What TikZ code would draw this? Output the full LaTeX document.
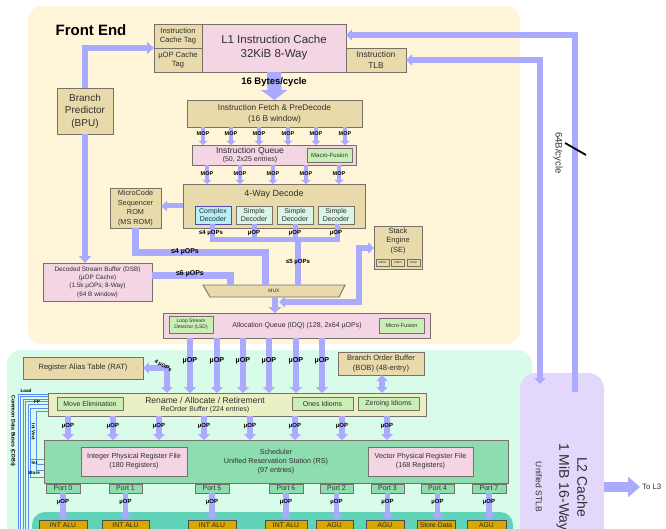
\documentclass[tikz,border=0pt]{standalone}
\usepackage{fontspec}
\setmainfont{Liberation Sans}
\usetikzlibrary{arrows.meta,calc}

\definecolor{feBg}{HTML}{FFF5D9}
\definecolor{beBg}{HTML}{D9FBE9}
\definecolor{l2Bg}{HTML}{E3D7FC}
\definecolor{exBg}{HTML}{60D2B8}
\definecolor{tanF}{HTML}{E9DAAB}
\definecolor{pinkF}{HTML}{F4D5E4}
\definecolor{greenF}{HTML}{C9EEB6}
\definecolor{cyanF}{HTML}{B6EEF9}
\definecolor{simpF}{HTML}{DAF5E7}
\definecolor{renF}{HTML}{EBF0C4}
\definecolor{schF}{HTML}{8EDDB0}
\definecolor{unitF}{HTML}{D8A800}
\definecolor{edgeC}{HTML}{77716A}
\definecolor{flowC}{HTML}{AAAAFF}
\definecolor{busC}{HTML}{5A8CF2}
\definecolor{txt}{HTML}{2F2F2F}

\newcommand{\fz}[2]{\fontsize{#1}{#2}\selectfont}
% \mkblk{style}{name}{x1}{y1}{x2}{y2}{text}: a box given by two corners
\newcommand{\mkblk}[7]{%
  \pgfmathsetmacro{\blkw}{#5-#3}%
  \pgfmathsetmacro{\blkh}{#6-#4}%
  \node[#1,minimum width=\blkw pt,minimum height=\blkh pt] (#2) at ({(#3+#5)/2},{(#4+#6)/2}) {#7};}

\begin{document}
\begin{tikzpicture}[x=1pt,y=-1pt,
  box/.style={draw=edgeC,line width=0.9pt,inner sep=0.5pt,outer sep=0pt,align=center,text=txt},
  tanbox/.style={box,fill=tanF},
  pinkbox/.style={box,fill=pinkF},
  greenbox/.style={box,fill=greenF},
  cplx/.style={box,fill=cyanF,draw=blue!40!gray},
  simp/.style={box,fill=simpF},
  renbox/.style={box,fill=renF},
  schbox/.style={box,fill=schF},
  exunit/.style={box,fill=unitF,draw=black!70,text=black!85},
  band/.style={draw=flowC,line width=#1},
  band/.default=6pt,
  fat/.style={band=6pt,-{Triangle[width=12pt,length=7pt]}},
  fatboth/.style={band=6pt,{Triangle[width=11pt,length=6pt]}-{Triangle[width=11pt,length=6pt]}},
  mop/.style={band=4.5pt,-{Triangle[width=9pt,length=4pt]}},
  uop/.style={band=5.5pt,-{Triangle[width=12pt,length=6pt]}},
  flowlbl/.style={font=\bfseries\fz{5.5}{6},inner sep=0pt,text=black},
  plain/.style={inner sep=0pt,text=txt,align=center},
  cdbline/.style={draw=busC,line width=0.8pt},
  buslbl/.style={font=\bfseries\fz{4.6}{5},inner sep=0pt,text=black}]

\useasboundingbox (0,0) rectangle (666,529);
\clip (0,0) rectangle (666,529);

% ---------- regions ----------
\fill[feBg,rounded corners=14pt] (28,6) rectangle (520,344);
\fill[beBg,rounded corners=14pt] (7,350) rectangle (532,570);
\fill[exBg,rounded corners=13pt] (32,512) rectangle (513,570);
\node[fill=l2Bg,rounded corners=16pt,minimum width=84pt,minimum height=200pt,inner sep=0pt,outer sep=0pt] (l2) at (562,473) {};

\node[font=\bfseries\fz{15}{18},inner sep=0pt] (fetitle) at (91,30) {Front End};

% ---------- front end blocks ----------
\mkblk{tanbox,font=\fz{7.6}{9.5}}{ictag}{154}{24}{202}{48}{Instruction\\Cache Tag}
\mkblk{tanbox,font=\fz{7.6}{9.5}}{uoptag}{154}{48}{202}{72}{µOP Cache\\Tag}
\mkblk{pinkbox,font=\fz{11.5}{14}}{l1}{202}{24}{346}{72}{L1 Instruction Cache\\32KiB 8-Way}
\mkblk{tanbox,font=\fz{8.4}{10.5}}{itlb}{346}{48}{406}{72}{Instruction\\TLB}
\mkblk{tanbox,font=\fz{10}{12.5}}{bpu}{57}{88}{113}{134}{Branch\\Predictor\\(BPU)}
\mkblk{tanbox,font=\fz{8.3}{11}}{fetch}{187}{100}{362}{127}{Instruction Fetch \& PreDecode\\(16 B window)}

\mkblk{pinkbox}{iq}{192}{145}{356}{165}{}
\node[plain,font=\fz{8.6}{9}] (iqt1) at (250,151) {Instruction Queue};
\node[plain,font=\fz{7}{8}] (iqt2) at (250,159.5) {(50, 2x25 entries)};
\mkblk{greenbox,font=\fz{6}{7}}{macro}{307}{148}{352}{162}{Macro-Fusion}

\mkblk{tanbox}{dec}{183}{184}{365}{228}{}
\node[plain,font=\fz{9}{10}] (dect) at (274,194) {4-Way Decode};
\mkblk{cplx,font=\fz{7}{8.3}}{cd}{195}{206}{231}{224}{Complex\\Decoder}
\mkblk{simp,font=\fz{7}{8.3}}{sd1}{236}{206}{272}{224}{Simple\\Decoder}
\mkblk{simp,font=\fz{7}{8.3}}{sd2}{277}{206}{313}{224}{Simple\\Decoder}
\mkblk{simp,font=\fz{7}{8.3}}{sd3}{318}{206}{354}{224}{Simple\\Decoder}

\mkblk{tanbox,font=\fz{7.3}{9.7}}{msrom}{110}{188}{161}{228}{MicroCode\\Sequencer\\ROM\\(MS ROM)}
\mkblk{pinkbox,font=\fz{6.4}{8.3}}{dsb}{43}{263}{152}{301}{Decoded Stream Buffer (DSB)\\(µOP Cache)\\(1.5k µOPs; 8-Way)\\(64 B window)}

% multiplexer
\draw[draw=edgeC,fill=tanF,line width=0.9pt] (203,285) -- (345,285) -- (339,297) -- (210,297) -- cycle;
\node[plain,font=\fz{5}{6}] (mux) at (274,291) {MUX};
\coordinate (muxN) at (274,285);
\coordinate (muxS) at (275,297);

% stack engine
\mkblk{tanbox}{se}{374}{226}{422}{269}{}
\node[plain,font=\fz{7.5}{9.7}] (setxt) at (398,241) {Stack\\Engine\\(SE)};
\mkblk{tanbox,font=\fz{3}{3.5},line width=0.6pt}{add1}{376}{259}{389}{266}{Adder}
\mkblk{tanbox,font=\fz{3}{3.5},line width=0.6pt}{add2}{391.5}{259}{404.5}{266}{Adder}
\mkblk{tanbox,font=\fz{3}{3.5},line width=0.6pt}{add3}{407}{259}{420}{266}{Adder}

% allocation queue
\mkblk{pinkbox}{idq}{163}{313}{430}{338}{}
\node[plain,font=\fz{7}{8}] (idqt) at (297,325.5) {Allocation Queue (IDQ) (128, 2x64 µOPs)};
\mkblk{greenbox,font=\fz{5}{6.5}}{lsd}{169}{316}{213}{333}{Loop Stream\\Detector (LSD)}
\mkblk{greenbox,font=\fz{5.5}{6}}{mfus}{379}{318}{424}{333}{Micro-Fusion}

% ---------- back end blocks ----------
\mkblk{tanbox,font=\fz{7.6}{9}}{rat}{23}{357}{143}{379}{Register Alias Table (RAT)}
\mkblk{tanbox,font=\fz{7.6}{10}}{bob}{338}{352}{424}{375}{Branch Order Buffer\\(BOB) (48-entry)}

\mkblk{renbox}{ren}{48}{393}{426}{416}{}
\node[plain,font=\fz{8.6}{9}] (rent1) at (205,400) {Rename / Allocate / Retirement};
\node[plain,font=\fz{7}{8}] (rent2) at (205,409.5) {ReOrder Buffer (224 entries)};
\mkblk{greenbox,font=\fz{7}{8}}{movel}{57}{397}{123}{410}{Move Elimination}
\mkblk{greenbox,font=\fz{7}{8}}{ones}{292}{397}{353}{410}{Ones Idioms}
\mkblk{greenbox,font=\fz{7}{8}}{zero}{358}{397}{419}{410}{Zeroing Idioms}

\mkblk{schbox}{sch}{44}{440}{508}{483}{}
\node[plain,font=\fz{7.2}{9}] (scht) at (276,462) {Scheduler\\Unified Reservation Station (RS)\\(97 entries)};
\mkblk{pinkbox,font=\fz{7.2}{9}}{iprf}{81}{447}{187}{476}{Integer Physical Register File\\(180 Registers)}
\mkblk{pinkbox,font=\fz{7.2}{9}}{vprf}{368}{447}{473}{476}{Vector Physical Register File\\(168 Registers)}

\mkblk{schbox,font=\fz{7}{8}}{p0}{46}{484}{80}{493}{Port 0}
\mkblk{schbox,font=\fz{7}{8}}{p1}{109}{484}{142}{493}{Port 1}
\mkblk{schbox,font=\fz{7}{8}}{p5}{195}{484}{229}{493}{Port 5}
\mkblk{schbox,font=\fz{7}{8}}{p6}{269}{484}{303}{493}{Port 6}
\mkblk{schbox,font=\fz{7}{8}}{p2}{320}{484}{353}{493}{Port 2}
\mkblk{schbox,font=\fz{7}{8}}{p3}{371}{484}{404}{493}{Port 3}
\mkblk{schbox,font=\fz{7}{8}}{p4}{421}{484}{454}{493}{Port 4}
\mkblk{schbox,font=\fz{7}{8}}{p7}{472}{484}{506}{493}{Port 7}

\mkblk{exunit,font=\fz{6.8}{8}}{u0}{39}{520}{87}{531}{INT ALU}
\mkblk{exunit,font=\fz{6.8}{8}}{u1}{102}{520}{149}{531}{INT ALU}
\mkblk{exunit,font=\fz{6.8}{8}}{u2}{188}{520}{236}{531}{INT ALU}
\mkblk{exunit,font=\fz{6.8}{8}}{u3}{265}{520}{307}{531}{INT ALU}
\mkblk{exunit,font=\fz{6.8}{8}}{u4}{316}{520}{353}{531}{AGU}
\mkblk{exunit,font=\fz{6.8}{8}}{u5}{366}{520}{404}{531}{AGU}
\mkblk{exunit,font=\fz{6.8}{8}}{u6}{417}{520}{455}{531}{Store Data}
\mkblk{exunit,font=\fz{6.8}{8}}{u7}{467}{520}{506}{531}{AGU}

% ---------- front end flows ----------
\draw[fat] (bpu.north) |- (ictag.south west);
\draw[fat] (bpu.south) -- (bpu.south |- dsb.north);
\draw[band=14pt,-{Triangle[width=26pt,length=10pt]}] (l1.south) -- (fetch.north);
\node[flowlbl,font=\bfseries\fz{9.5}{10}] (bw16) at (274,82) {16 Bytes/cycle};

\foreach \x in {203,231,259,288,316,345}{
  \draw[mop] (fetch.south -| \x,0) -- (iq.north -| \x,0);
  \node[flowlbl] at (\x,133.5) {MOP};}
\foreach \x in {207,240,273,306,339}{
  \draw[mop] (iq.south -| \x,0) -- (dec.north -| \x,0);
  \node[flowlbl] at (\x,173.5) {MOP};}

\draw[band=5pt,-{Triangle[width=10pt,length=6pt]}] (dec.west |- 0,206) -- (msrom.east |- 0,206);

% decoder outputs merge into one bus
\coordinate (busL) at (212,240);
\coordinate (busR) at (337,240);
\coordinate (busM) at (298,240);
\draw[band=5pt] (cd.south -| busL) -- (busL) -- (busR) -- (sd3.south -| busR);
\draw[band=5pt] (sd1.south) -- (sd1.south |- busL);
\draw[band=5pt] (sd2.south) -- (sd2.south |- busL);
\draw[band=6pt] (busM) -- (busM |- muxN);
\draw[band=7pt] (msrom.south) |- (265,253) -- (muxN -| 265,0);
\draw[band=7pt] (dsb.east |- 0,275) -| (muxN -| 230,0);
\draw[band=6.5pt,-{Triangle[width=13pt,length=6pt]}] (muxS) -- (muxS |- idq.north);
\draw[band=5.5pt,{Triangle[width=11pt,length=6pt]}-{Triangle[width=11pt,length=6pt]}] (279,302) -- (359,302) -- (359,248) -- (se.west |- 0,248);

\node[flowlbl,font=\bfseries\fz{6}{7}] (l4a) at (211,233) {≤4 µOPs};
\node[flowlbl,font=\bfseries\fz{6}{7}] (l1a) at (254,233) {µOP};
\node[flowlbl,font=\bfseries\fz{6}{7}] (l1b) at (295,233) {µOP};
\node[flowlbl,font=\bfseries\fz{6}{7}] (l1c) at (336,233) {µOP};
\node[flowlbl,font=\bfseries\fz{6}{7}] (l5) at (298,262) {≤5 µOPs};
\node[flowlbl,font=\bfseries\fz{7}{8}] (l4b) at (185,252) {≤4 µOPs};
\node[flowlbl,font=\bfseries\fz{7}{8}] (l6) at (190,274) {≤6 µOPs};

% ---------- L2 links ----------
\coordinate (l2a) at (540,384);
\coordinate (l2b) at (575,392);
\draw[fatboth] (itlb.east) -- (itlb.east -| l2a) -- (l2a);
\draw[band=5.5pt,-{Triangle[width=11pt,length=6pt]}] (l2b) -- (575,35) -- (l1.east |- 0,35);
\draw[black,line width=1.8pt] (565,143) -- (586,155);
\node[plain,rotate=-90,font=\fz{9.5}{10}] (bw64) at (558,153) {64B/cycle};

\node[plain,rotate=-90,font=\fz{14}{18}] (l2txt) at (572,487) {L2 Cache\\1 MiB 16-Way};
\node[plain,rotate=-90,font=\fz{8.5}{10}] (stlb) at (539,487) {Unified STLB};
\draw[band=10pt,-{Triangle[width=20pt,length=12pt]}] (l2.east |- 0,487) -- (640,487) coordinate (l3end);
\node[plain,anchor=west,font=\fz{7.8}{9}] (tol3) at (642,487) {To L3};

% ---------- back end flows ----------
\foreach \x in {190,217,243,269,296,322}{
  \draw[uop] (idq.south -| \x,0) -- (ren.north -| \x,0);
  \node[flowlbl,font=\bfseries\fz{7.2}{8}] at (\x,361) {µOP};}
\draw[fatboth] (ren.north -| 167,0) |- (rat.east);
\node[flowlbl,rotate=-30,font=\bfseries\fz{5.5}{6}] (rat4) at (163,366) {4 µOPs};
\draw[fatboth] (bob.south -| 382,0) -- (ren.north -| 382,0);

\foreach \x in {68,113,159,204,250,295,342,387}{
  \draw[uop] (ren.south -| \x,0) -- (sch.north -| \x,0);
  \node[flowlbl,font=\bfseries\fz{6}{7}] at (\x,426.5) {µOP};}

\foreach \p/\u in {p0/u0,p1/u1,p5/u2,p6/u3,p2/u4,p3/u5,p4/u6,p7/u7}{
  \draw[uop] (\p.south) -- (\p.south |- \u.north);
  \node[flowlbl,font=\bfseries\fz{6}{7}] at ($(\p.south)+(0,9)$) {µOP};}

% ---------- common data buses ----------
\foreach \i in {0,...,4}{
  \draw[cdbline] ({18+2.6*\i},535) |- (ren.west |- 0,{394+2.6*\i});}
\draw[cdbline] (ren.west |- 0,408) -| (30.5,477) -- (sch.west |- 0,477);
\draw[cdbline] (ren.west |- 0,411) -| (36.5,470) -- (sch.west |- 0,470);
\draw[cdbline] (30.5,459) -- (sch.west |- 0,459);
\draw[cdbline] (36.5,464) -- (sch.west |- 0,464);
\node[buslbl,rotate=-90,font=\bfseries\fz{5.2}{6}] (cdbt) at (13,431) {Common Data Buses (CDBs)};
\node[buslbl] (ld) at (26,391) {Load};
\node[buslbl] (fp) at (37,401.5) {FP};
\node[buslbl,rotate=-90] (iv) at (33.5,432) {Int Vect};
\node[buslbl] (iint) at (34.5,462.5) {Int};
\node[buslbl] (st) at (34,473) {Store};

\end{tikzpicture}
\end{document}
